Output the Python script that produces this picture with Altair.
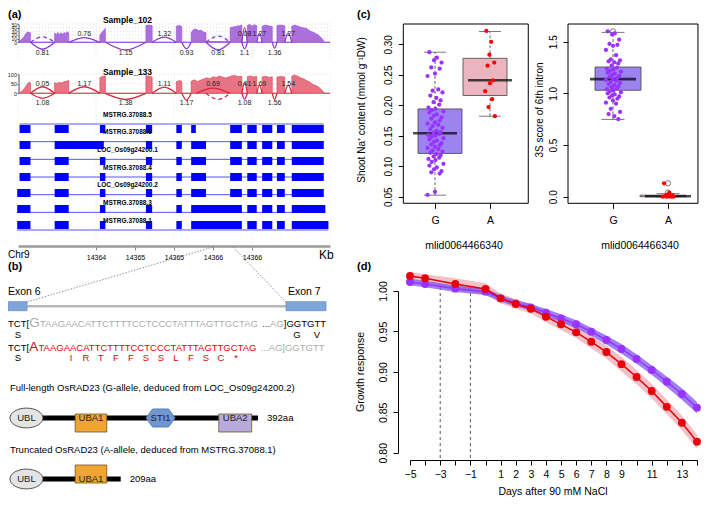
import altair as alt
import pandas as pd

# ======================= DATA =======================
# ---- (a) sashimi coverage: (position kb, read depth)
COV_102 = [
    (14363.00, 0), (14363.02, 0), (14363.02, 4), (14363.05, 9), (14363.08, 16), (14363.10, 24), (14363.12, 28), (14363.14, 27), (14363.16, 26), (14363.16, 0),
    (14363.47, 0), (14363.47, 26), (14363.49, 20), (14363.51, 27), (14363.53, 22), (14363.55, 26), (14363.57, 21), (14363.59, 27), (14363.61, 24), (14363.63, 29), (14363.65, 26), (14363.65, 0),
    (14364.05, 0), (14364.05, 20), (14364.08, 28), (14364.10, 33), (14364.12, 38), (14364.12, 0),
    (14364.64, 0), (14364.64, 46), (14364.68, 47), (14364.72, 45), (14364.72, 0),
    (14365.03, 0), (14365.03, 44), (14365.07, 46), (14365.10, 43), (14365.10, 0),
    (14365.22, 0), (14365.22, 27), (14365.25, 35), (14365.28, 36), (14365.31, 32), (14365.35, 33), (14365.38, 28), (14365.41, 26), (14365.41, 2), (14365.72, 2),
    (14365.72, 40), (14365.76, 42), (14365.80, 44), (14365.84, 45), (14365.87, 47), (14365.87, 0),
    (14365.94, 0), (14365.94, 46), (14365.97, 49), (14366.00, 44), (14366.03, 48), (14366.06, 45), (14366.06, 0),
    (14366.13, 0), (14366.13, 44), (14366.17, 47), (14366.21, 45), (14366.26, 43), (14366.26, 0),
    (14366.32, 0), (14366.32, 46), (14366.37, 47), (14366.42, 45), (14366.42, 0),
    (14366.51, 0), (14366.51, 44), (14366.55, 47), (14366.60, 43), (14366.65, 40), (14366.70, 38), (14366.75, 30), (14366.80, 26), (14366.85, 20), (14366.90, 10), (14366.92, 4), (14366.92, 0), (14367.00, 0),
]
COV_133 = [
    (14363.00, 0), (14363.02, 0), (14363.02, 2), (14363.06, 14), (14363.09, 30), (14363.12, 48), (14363.14, 57), (14363.16, 55), (14363.16, 0),
    (14363.47, 0), (14363.47, 55), (14363.50, 51), (14363.53, 57), (14363.56, 53), (14363.59, 60), (14363.62, 62), (14363.65, 68), (14363.65, 0),
    (14364.05, 0), (14364.05, 82), (14364.09, 88), (14364.12, 90), (14364.12, 0),
    (14364.64, 0), (14364.64, 92), (14364.68, 88), (14364.72, 84), (14364.72, 0),
    (14365.03, 0), (14365.03, 60), (14365.07, 66), (14365.10, 62), (14365.10, 0),
    (14365.22, 0), (14365.22, 62), (14365.26, 70), (14365.30, 61), (14365.34, 67), (14365.38, 74), (14365.42, 80), (14365.46, 76), (14365.50, 86), (14365.54, 82), (14365.58, 90), (14365.62, 85), (14365.66, 79), (14365.70, 84), (14365.74, 90), (14365.78, 92), (14365.82, 86), (14365.87, 88), (14365.87, 0),
    (14365.94, 0), (14365.94, 86), (14365.98, 90), (14366.02, 84), (14366.06, 88), (14366.06, 0),
    (14366.13, 0), (14366.13, 85), (14366.18, 88), (14366.22, 82), (14366.26, 86), (14366.26, 0),
    (14366.32, 0), (14366.32, 84), (14366.37, 87), (14366.42, 85), (14366.42, 0),
    (14366.51, 0), (14366.51, 88), (14366.54, 95), (14366.58, 90), (14366.62, 80), (14366.66, 76), (14366.70, 66), (14366.74, 58), (14366.78, 46), (14366.82, 40), (14366.86, 30), (14366.90, 15), (14366.92, 5), (14366.92, 0), (14367.00, 0),
]
# ---- (a) junctions: (start kb, end kb, arc apex depth (negative = below), label, dashed)
JUNC_102 = [
    (14363.16, 14363.47, 15, "", True),
    (14363.16, 14363.47, -19, "0.81", False),
    (14363.65, 14364.05, 13, "0.76", False),
    (14364.12, 14364.64, -21, "1.15", False),
    (14364.72, 14365.03, 14, "1.32", False),
    (14365.10, 14365.22, -18, "0.93", False),
    (14365.41, 14365.72, 17, "", True),
    (14365.41, 14365.72, -21, "0.81", False),
    (14365.87, 14365.94, 40, "0.08", False),
    (14365.87, 14365.94, -18, "1.1", False),
    (14366.06, 14366.13, 26, "1.27", False),
    (14366.26, 14366.32, -16, "1.36", False),
    (14366.42, 14366.51, 26, "1.27", False),
]
JUNC_133 = [
    (14363.16, 14363.47, 34, "0.05", False),
    (14363.16, 14363.47, -26, "1.08", False),
    (14363.65, 14364.05, 34, "1.17", False),
    (14364.12, 14364.64, -31, "1.38", False),
    (14364.72, 14365.03, 32, "1.11", False),
    (14365.10, 14365.22, -35, "1.17", False),
    (14365.28, 14365.72, 27, "0.69", False),
    (14365.41, 14365.72, -31, "", True),
    (14365.87, 14365.94, 58, "0.41", False),
    (14365.87, 14365.94, -31, "1.08", False),
    (14366.06, 14366.13, 42, "1.69", False),
    (14366.26, 14366.32, -31, "1.56", False),
    (14366.42, 14366.51, 42, "1.54", False),
]
DEPTH_TICKS_102 = [0, 10, 20, 30, 40, 50]
DEPTH_TICKS_133 = [0, 50, 100]
KB_TICKS = [14364, 14364.5, 14365, 14365.5, 14366]
KB_GRID = [14363, 14364, 14365, 14366, 14367]

TRANSCRIPTS = ["MSTRG.37088.5", "MSTRG.37088.6", "LOC_Os09g24200.1", "MSTRG.37088.4",
               "LOC_Os09g24200.2", "MSTRG.37088.3", "MSTRG.37088.1"]
E1, E1b = (14363.02, 14363.16), (14362.99, 14363.16)
E2, E3, E4, E5 = (14363.47, 14363.65), (14364.05, 14364.12), (14364.64, 14364.72), (14365.03, 14365.10)
E6s, E6l = (14365.22, 14365.28), (14365.22, 14365.41)
E7, E8, E9, E10, E11 = (14365.72, 14365.87), (14365.94, 14366.06), (14366.13, 14366.26), (14366.32, 14366.42), (14366.51, 14366.92)
EXONS = [
    [E1, E2, E3, E4, E5, E6s, E7, E8, E9, E10, E11],
    [E1, (14363.47, 14364.10), E4, E5, E6l, E7, E8, E9, E10, E11],
    [E1, E2, E3, E4, E5, E6l, E7, E8, E9, E10, E11],
    [E1, E2, E3, E4, E5, E6l, E7, E8, E9, E10, E11],
    [E1b, E2, E3, E4, E5, E6l, E7, E8, E9, E10, E11],
    [E1b, E2, E3, E4, E5, (14365.22, 14365.87), E8, E9, E10, (14366.51, 14366.94)],
    [E1b, E2, E3, E4, E5, (14365.22, 14365.87), E8, E9, E10, (14366.51, 14366.98)],
]

# ---- (b)
INTRON_DIAGRAM = [("exon", 0, 19), ("intron", 19, 278), ("exon", 278, 318)]
AA_TRUNC = ["I", "R", "T", "F", "F", "S", "S", "L", "F", "S", "C", "*"]
PROT_TITLES = ["Full-length OsRAD23 (G-allele, deduced from LOC_Os09g24200.2)",
               "Truncated OsRAD23 (A-allele, deduced from MSTRG.37088.1)"]
PROT_LEN_LABEL = ["392aa", "209aa"]
PROT_END = [392, 175]
DOM_NAME = ["UBA1", "UBA2", "UBA1"]
DOM_ROW = [0, 0, 1]
DOM_START = [103, 330, 103]
DOM_END = [153, 382, 153]
UBL_CENTER = 26
STI1_CENTER = 238

# ---- (c)
NA_G = [0.287, 0.278, 0.274, 0.270, 0.262, 0.260, 0.252, 0.248, 0.226, 0.224, 0.221, 0.216, 0.212, 0.208,
        0.205, 0.201, 0.196, 0.194, 0.192, 0.190, 0.188, 0.185, 0.183, 0.180, 0.178, 0.175, 0.172, 0.170,
        0.168, 0.166, 0.163, 0.161, 0.158, 0.156, 0.155, 0.153, 0.151, 0.150, 0.148, 0.146, 0.144, 0.142,
        0.140, 0.138, 0.136, 0.134, 0.132, 0.130, 0.128, 0.126, 0.124, 0.122, 0.120, 0.118, 0.116, 0.114,
        0.112, 0.110, 0.107, 0.104, 0.101, 0.098, 0.095, 0.092, 0.090, 0.088, 0.058, 0.053]
NA_A = [0.322, 0.304, 0.283, 0.270, 0.265, 0.241, 0.236, 0.223, 0.210, 0.197, 0.182]
S3_G = [1.60, 1.58, 1.57, 1.52, 1.48, 1.47, 1.46, 1.42, 1.37, 1.33, 1.32, 1.31, 1.30, 1.29, 1.27, 1.25,
        1.24, 1.23, 1.22, 1.21, 1.20, 1.19, 1.18, 1.17, 1.16, 1.15, 1.14, 1.13, 1.12, 1.11, 1.10, 1.09,
        1.08, 1.07, 1.06, 1.05, 1.04, 1.03, 1.02, 1.01, 1.00, 0.99, 0.98, 0.97, 0.96, 0.95, 0.93, 0.91,
        0.90, 0.85, 0.82, 0.80, 0.78, 0.75]
S3_A = [0.13, 0.04, 0.02, 0.012, 0.008, 0.005, 0.003, 0.0, 0.0, 0.0, 0.0]
# box stats: (lower whisker, q1, median, q3, upper whisker)
NA_BOX = {"G": (0.0525, 0.121, 0.154, 0.194, 0.287), "A": (0.182, 0.216, 0.241, 0.277, 0.321)}
S3_BOX = {"G": (0.748, 1.03, 1.138, 1.255, 1.59), "A": (0.0, 0.0, 0.004, 0.015, 0.03)}
S3_OUTLIERS = {"G": [1.60], "A": [0.13, 0.04]}
JITTER = [-0.6, 0.2, -0.1, 0.7, -0.4, 0.5, 0.0, -0.8, 0.35, -0.25, 0.8, -0.5, 0.15, 0.6, -0.15, 0.45, -0.7, 0.05, -0.35, 0.9]

# ---- (d)
DAYS = [-5, -4, -2, 0, 1, 2, 3, 4, 5, 6, 7, 8, 9, 10, 11, 12, 13, 14]
GROW_G = [1.0111, 1.0087, 1.0029, 0.9992, 0.9909, 0.9847, 0.9798, 0.9732, 0.9662, 0.9588, 0.9497, 0.9394,
          0.9283, 0.9159, 0.9023, 0.8878, 0.8726, 0.8557]
GROW_G_SE = [0.004, 0.004, 0.004, 0.004, 0.004, 0.004, 0.004, 0.0045, 0.005, 0.005, 0.005, 0.0055,
             0.006, 0.006, 0.006, 0.0065, 0.007, 0.007]
GROW_A = [1.0186, 1.0157, 1.0087, 1.0025, 0.9909, 0.9839, 0.9781, 0.9682, 0.9588, 0.9489, 0.9373, 0.9245,
          0.9095, 0.8936, 0.8763, 0.8567, 0.8371, 0.8136]
GROW_A_SE = [0.005, 0.005, 0.007, 0.007, 0.006, 0.006, 0.006, 0.007, 0.007, 0.007, 0.008, 0.008,
             0.009, 0.009, 0.009, 0.009, 0.009, 0.009]
DAY_TICKS = list(range(-5, 15))
DAY_LABELS = [-5, -3, -1, 1, 2, 3, 4, 5, 6, 7, 8, 9, 11, 13]
DASHED_DAYS = [-3, -1]

# ======================= LAYOUT HELPERS =======================
OFF = 8
W, H = 693, 491
FONT = "Liberation Sans"
PURPLE = "#9933ff"
RED = "#e8000b"


def S(dom, p0, p1):
    return alt.Scale(domain=list(dom), range=[p0 - OFF, p1 - OFF], nice=False, zero=False)


def T(s, x, y, size=10, color="black", weight="normal", align="left", baseline="middle", angle=0):
    return alt.Chart(pd.DataFrame({"t": [s]})).mark_text(
        fontSize=size, color=color, fontWeight=weight, align=align, baseline=baseline,
        angle=angle, font=FONT
    ).encode(x=alt.value(x - OFF), y=alt.value(y - OFF), text="t:N")


layers = []

# ======================= (a) =======================
KB = S([14363, 14367], 18, 330)


def sashimi(cov, junc, ticks, yscale, fill, line, base, grid_lo, grid_hi, lab_up, lab_dn, y_axis_x, tick_fs):
    out = []
    gh = pd.DataFrame({"v": ticks, "a": [14363] * len(ticks), "b": [14367] * len(ticks)})
    out.append(alt.Chart(gh).mark_rule(color="#d8d8d8", strokeDash=[1, 2], strokeWidth=0.8).encode(
        x=alt.X("a:Q", scale=KB, axis=None), x2="b:Q", y=alt.Y("v:Q", scale=yscale, axis=None)))
    gv = pd.DataFrame({"k": KB_GRID, "lo": [grid_lo] * len(KB_GRID), "hi": [grid_hi] * len(KB_GRID)})
    out.append(alt.Chart(gv).mark_rule(color="#d8d8d8", strokeDash=[1, 2], strokeWidth=0.8).encode(
        x=alt.X("k:Q", scale=KB, axis=None), y=alt.Y("lo:Q", scale=yscale, axis=None), y2="hi:Q"))
    out.append(alt.Chart(pd.DataFrame({"a": [14363], "b": [14367], "v": [0]})).mark_rule(
        color=base, strokeWidth=1.2).encode(
        x=alt.X("a:Q", scale=KB, axis=None), x2="b:Q", y=alt.Y("v:Q", scale=yscale, axis=None)))
    cdf = pd.DataFrame({"kb": [c[0] for c in cov], "d": [c[1] for c in cov]})
    out.append(alt.Chart(cdf).mark_area(color=fill, opacity=0.9, stroke=line, strokeWidth=0.6).encode(
        x=alt.X("kb:Q", scale=KB, axis=None),
        y=alt.Y("d:Q", scale=yscale, stack=None, axis=alt.Axis(
            orient="left", offset=-(y_axis_x - OFF), values=ticks, labelFontSize=tick_fs, tickSize=1.5,
            labelPadding=0.5, labelOverlap=False, labelFlush=False, grid=False, title=None,
            domainColor="#444", tickColor="#444", labelColor="#222", labelFont=FONT))))
    rows = []
    for j, (s, e, h, lab, dashed) in enumerate(junc):
        m = (s + e) / 2
        for k, (xx, yy) in enumerate([(s, 0), (m, h), (e, 0)]):
            rows.append({"id": j, "kb": xx, "d": yy, "dashed": dashed, "i": k})
    adf = pd.DataFrame(rows)
    for dashed in (False, True):
        sub = adf[adf["dashed"] == dashed]
        mk = dict(interpolate="monotone", color=line, strokeWidth=1.3)
        if dashed:
            mk["strokeDash"] = [4, 3]
        out.append(alt.Chart(sub).mark_line(**mk).encode(
            x=alt.X("kb:Q", scale=KB, axis=None), y=alt.Y("d:Q", scale=yscale, axis=None),
            detail="id:N", order="i:Q"))
    ldf = pd.DataFrame([{"kb": (s + e) / 2, "y": (lab_up if h > 0 else lab_dn), "t": lab}
                        for (s, e, h, lab, dashed) in junc if lab])
    out.append(alt.Chart(ldf).mark_text(fontSize=7, color="#222", font=FONT).encode(
        x=alt.X("kb:Q", scale=KB, axis=None), y=alt.Y("y:Q", scale=yscale, axis=None), text="t:N"))
    return out


Y102 = S([0, 50], 42.3, 24)
Y133 = S([0, 100], 93.3, 74)
layers += sashimi(COV_102, JUNC_102, DEPTH_TICKS_102, Y102, "#a461da", "#8a3bcf", "#c9a2ee",
                  -40, 55, 24, -30.5, 18.5, 5)
layers += sashimi(COV_133, JUNC_133, DEPTH_TICKS_133, Y133, "#e56676", "#d8263d", "#f0a8b0",
                  -78, 100, 46.5, -49, 18.5, 5.5)
layers.append(T("Sample_102", 127.5, 19.5, 8.5, weight="bold", align="center"))
layers.append(T("Sample_133", 127.5, 71.5, 8.5, weight="bold", align="center"))
layers.append(T("(a)", 8, 15, 11, weight="bold"))

# gene models
YG = S([0, 6], 124, 230)
gv = pd.DataFrame({"k": KB_GRID, "lo": [-0.8] * len(KB_GRID), "hi": [6.8] * len(KB_GRID)})
layers.append(alt.Chart(gv).mark_rule(color="#e4e4e4", strokeDash=[1, 2], strokeWidth=0.8).encode(
    x=alt.X("k:Q", scale=KB, axis=None), y=alt.Y("lo:Q", scale=YG, axis=None), y2="hi:Q"))
intr = pd.DataFrame({"row": list(range(len(TRANSCRIPTS))),
                     "s": [ex[0][0] for ex in EXONS], "e": [ex[-1][1] for ex in EXONS]})
layers.append(alt.Chart(intr).mark_rule(color="#5555ff", strokeWidth=1).encode(
    x=alt.X("s:Q", scale=KB, axis=None), x2="e:Q", y=alt.Y("row:Q", scale=YG, axis=None)))
exdf = pd.DataFrame([{"row": r, "s": s, "e": e} for r, ex in enumerate(EXONS) for (s, e) in ex])
layers.append(alt.Chart(exdf).mark_bar(orient="horizontal", size=8, color="#0000ff").encode(
    x=alt.X("s:Q", scale=KB, axis=alt.Axis(
        orient="bottom", offset=(246 - OFF) - H, values=KB_TICKS, format="~f", labelFontSize=7,
        tickSize=4, tickColor="#888", domainColor="#9a9a9a", domainWidth=2.5, labelPadding=3,
        grid=False, title=None, labelOverlap=False, labelFlush=False, labelFont=FONT)),
    x2="e:Q", y=alt.Y("row:Q", scale=YG, axis=None)))
ldf = pd.DataFrame({"row": list(range(len(TRANSCRIPTS))), "t": TRANSCRIPTS})
layers.append(alt.Chart(ldf).mark_text(fontSize=6.5, fontWeight="bold", font=FONT, dy=-9.5).encode(
    x=alt.value(127.5 - OFF), y=alt.Y("row:Q", scale=YG, axis=None), text="t:N"))
layers.append(T("Chr9", 8, 254.5, 10))
layers.append(T("Kb", 319, 254.5, 12))

# ======================= (b) =======================
layers.append(T("(b)", 8, 267, 11, weight="bold"))
for (x1, y1, x2, y2) in [(213, 247, 27, 302), (233, 247, 286, 302)]:
    layers.append(alt.Chart(pd.DataFrame({"a": [0]})).mark_rule(
        color="#777", strokeDash=[1.5, 1.5], strokeWidth=0.8).encode(
        x=alt.value(x1 - OFF), y=alt.value(y1 - OFF), x2=alt.value(x2 - OFF), y2=alt.value(y2 - OFF)))
XB = S([0, 318], 8, 326)
idf = pd.DataFrame([{"k": k, "s": s, "e": e} for (k, s, e) in INTRON_DIAGRAM])
layers.append(alt.Chart(idf[idf.k == "intron"]).mark_rule(color="#b8b8b8", strokeWidth=2.5).encode(
    x=alt.X("s:Q", scale=XB, axis=None), x2="e:Q", y=alt.value(306.2 - OFF)))
layers.append(alt.Chart(idf[idf.k == "exon"]).mark_bar(
    orient="horizontal", size=9, color="#7fa6da", stroke="#6a8fc6", strokeWidth=0.8).encode(
    x=alt.X("s:Q", scale=XB, axis=None), x2="e:Q", y=alt.value(306.2 - OFF)))
layers.append(T("Exon 6", 8, 295, 10.5, baseline="alphabetic"))
layers.append(T("Exon 7", 288, 295, 10.5, baseline="alphabetic"))

FS = 9.5
GRAY = "#adadad"
B1, A1, B2, A2 = 327.3, 337.5, 350.7, 361
layers += [
    T("TCT[", 8, B1, FS, baseline="alphabetic"),
    T("G", 29.3, B1, 13.5, GRAY, baseline="alphabetic"),
    T("TAAGAACATTCTTTTCCTCCCTATTTAGTTGCTAG", 40, B1, FS, GRAY, baseline="alphabetic"),
    T("...", 262.2, B1, FS, "#333", baseline="alphabetic"),
    T("AG", 270.1, B1, FS, GRAY, baseline="alphabetic"),
    T("]GGTGTT", 283.8, B1, FS, baseline="alphabetic"),
    T("S", 18, A1, FS, align="center", baseline="alphabetic"),
    T("G", 297, A1, FS, align="center", baseline="alphabetic"),
    T("V", 317, A1, FS, align="center", baseline="alphabetic"),
    T("TCT[", 8, B2, FS, baseline="alphabetic"),
    T("A", 29.3, B2, 13.5, RED, baseline="alphabetic"),
    T("TAAGAACATTCTTTTCCTCCCTATTTAGTTGCTAG", 38.5, B2, FS, RED, baseline="alphabetic"),
    T("...AG]GGTGTT", 260.7, B2, FS, GRAY, baseline="alphabetic"),
    T("S", 18, A2, FS, align="center", baseline="alphabetic"),
]
XCOD = S([0, len(AA_TRUNC) - 1], 71, 236)
aadf = pd.DataFrame({"k": list(range(len(AA_TRUNC))), "t": AA_TRUNC})
layers.append(alt.Chart(aadf).mark_text(fontSize=FS, color=RED, font=FONT, baseline="alphabetic").encode(
    x=alt.X("k:Q", scale=XCOD, axis=None), y=alt.value(A2 - OFF), text="t:N"))

# protein diagrams
XAA = S([0, 392], 10, 258)
YAA = S([0, 1], 418, 479)
layers.append(T(PROT_TITLES[0], 10, 388, 9.5))
layers.append(T(PROT_TITLES[1], 10, 450, 9.5))
pl = pd.DataFrame({"row": [0, 1], "s": [UBL_CENTER, UBL_CENTER], "e": PROT_END, "t": PROT_LEN_LABEL})
layers.append(alt.Chart(pl).mark_rule(color="black", strokeWidth=5).encode(
    x=alt.X("s:Q", scale=XAA, axis=None), x2="e:Q", y=alt.Y("row:Q", scale=YAA, axis=None)))
layers.append(alt.Chart(pl).mark_text(fontSize=9.5, align="left", dx=9, font=FONT).encode(
    x=alt.X("e:Q", scale=XAA, axis=None), y=alt.Y("row:Q", scale=YAA, axis=None), text="t:N"))
dd = pd.DataFrame({"n": DOM_NAME, "row": DOM_ROW, "s": DOM_START, "e": DOM_END})
dd["m"] = (dd.s + dd.e) / 2
layers.append(alt.Chart(dd).mark_bar(orient="horizontal", size=18, stroke="#6b5520", strokeWidth=0.8).encode(
    x=alt.X("s:Q", scale=XAA, axis=None), x2="e:Q", y=alt.Y("row:Q", scale=YAA, axis=None),
    color=alt.Color("n:N", scale=alt.Scale(domain=["UBA1", "UBA2"], range=["#f0a532", "#b9aadd"]), legend=None)))
ELLIPSE = "M -1 0 A 1 0.6 0 1 1 1 0 A 1 0.6 0 1 1 -1 0 Z"
HEXAGON = "M -1 0 L -0.55 -0.62 L 0.55 -0.62 L 1 0 L 0.55 0.62 L -0.55 0.62 Z"
ubl = pd.DataFrame({"row": [0, 1], "c": [UBL_CENTER, UBL_CENTER], "n": ["UBL", "UBL"]})
layers.append(alt.Chart(ubl).mark_point(shape=ELLIPSE, size=1089, filled=True, fill="#e4e4e4",
                                        stroke="#555", strokeWidth=1, opacity=1).encode(
    x=alt.X("c:Q", scale=XAA, axis=None), y=alt.Y("row:Q", scale=YAA, axis=None)))
sti = pd.DataFrame({"row": [0], "c": [STI1_CENTER], "n": ["STI1"]})
layers.append(alt.Chart(sti).mark_point(shape=HEXAGON, size=841, filled=True, fill="#7097d0",
                                        stroke="#5a7db3", strokeWidth=1, opacity=1).encode(
    x=alt.X("c:Q", scale=XAA, axis=None), y=alt.Y("row:Q", scale=YAA, axis=None)))
lab = pd.concat([ubl, sti, dd.rename(columns={"m": "c"})[["row", "c", "n"]]])
layers.append(alt.Chart(lab).mark_text(fontSize=9.5, font=FONT, color="#222").encode(
    x=alt.X("c:Q", scale=XAA, axis=None), y=alt.Y("row:Q", scale=YAA, axis=None), text="n:N"))

# ======================= (c) =======================
layers.append(T("(c)", 357, 15, 11, weight="bold"))


def box_panel(vals, box, outliers, xs, ys, frame_x, frame_y, yticks, yfmt, axis_x, widths, spreads, caps):
    out = []
    fr = pd.DataFrame({"x0": [frame_x[0]], "x1": [frame_x[1]], "y0": [frame_y[0]], "y1": [frame_y[1]]})
    for grp, pos in (("G", 1), ("A", 2)):
        lo, q1, med, q3, hi = box[grp]
        bw = widths[grp]
        bdf = pd.DataFrame({"x": [pos], "lo": [lo], "q1": [q1], "med": [med], "q3": [q3], "hi": [hi]})
        X = alt.X("x:Q", scale=xs, axis=None)
        out.append(alt.Chart(bdf).mark_rule(color="#555", strokeDash=[3, 2], strokeWidth=0.9).encode(
            x=X, y=alt.Y("q3:Q", scale=ys, axis=None), y2="hi:Q"))
        out.append(alt.Chart(bdf).mark_rule(color="#555", strokeDash=[3, 2], strokeWidth=0.9).encode(
            x=X, y=alt.Y("lo:Q", scale=ys, axis=None), y2="q1:Q"))
        for f in ("lo", "hi"):
            out.append(alt.Chart(bdf).mark_tick(orient="horizontal", size=caps, thickness=1, color="#444").encode(
                x=X, y=alt.Y(f + ":Q", scale=ys, axis=None)))
        out.append(alt.Chart(bdf).mark_bar(orient="vertical", size=bw, color=("#9c83ef" if grp == "G" else "#ebb5bf"),
                                           stroke="#444", strokeWidth=0.8).encode(
            x=X, y=alt.Y("q1:Q", scale=ys, axis=None), y2="q3:Q"))
        out.append(alt.Chart(bdf).mark_tick(orient="horizontal", size=bw, thickness=2.6, color="black").encode(
            x=X, y=alt.Y("med:Q", scale=ys, axis=None)))
        if outliers.get(grp):
            odf = pd.DataFrame({"x": [pos] * len(outliers[grp]), "v": outliers[grp]})
            out.append(alt.Chart(odf).mark_point(shape="circle", filled=False, size=28, color="#444",
                                                 strokeWidth=1).encode(
                x=alt.X("x:Q", scale=xs, axis=None), y=alt.Y("v:Q", scale=ys, axis=None)))
        v = vals[grp]
        pdf = pd.DataFrame({"x": [pos + JITTER[i % len(JITTER)] * spreads[grp] for i in range(len(v))], "v": v})
        out.append(alt.Chart(pdf).mark_circle(size=18, opacity=1, color=(PURPLE if grp == "G" else "#ff0000")).encode(
            x=alt.X("x:Q", scale=xs, axis=None), y=alt.Y("v:Q", scale=ys, axis=None)))
    out.append(alt.Chart(fr).mark_rect(fillOpacity=0, stroke="black", strokeWidth=1).encode(
        x=alt.X("x0:Q", scale=xs, axis=alt.Axis(
            orient="bottom", offset=(203.3 - OFF) - H, values=[1, 2],
            labelExpr="datum.value == 1 ? 'G' : 'A'", domain=False, tickSize=5, tickColor="black",
            labelFontSize=10.5, labelPadding=7, labelFont=FONT, grid=False, title=None,
            labelOverlap=False, labelFlush=False)),
        x2="x1:Q",
        y=alt.Y("y0:Q", scale=ys, axis=alt.Axis(
            orient="left", offset=-(axis_x - OFF), values=yticks, format=yfmt, labelAngle=270,
            labelAlign="center", labelBaseline="bottom", domain=False, tickSize=5, tickColor="black",
            labelFontSize=10, labelPadding=5, labelFont=FONT, grid=False, title=None,
            labelOverlap=False, labelFlush=False)),
        y2="y1:Q"))
    return out


XCL = S([1, 2], 435, 490)
YCL = S([0.05, 0.30], 196.7, 44.3)
layers += box_panel({"G": NA_G, "A": NA_A}, NA_BOX, {}, XCL, YCL, (0.424, 2.696), (0.0392, 0.3333),
                    [0.05, 0.10, 0.15, 0.20, 0.25, 0.30], ".2f", 403.3,
                    {"G": 44, "A": 44}, {"G": 0.17, "A": 0.11}, 22)
XCR = S([1, 2], 613, 668)
YCR = S([0, 1.5], 196.7, 41.7)
layers += box_panel({"G": S3_G, "A": S3_A}, S3_BOX, S3_OUTLIERS, XCR, YCR, (0.182, 2.545), (-0.064, 1.671),
                    [0.0, 0.5, 1.0, 1.5], ".1f", 568,
                    {"G": 46, "A": 46}, {"G": 0.16, "A": 0.12}, 23)
layers.append(T("Shoot Na\u207a content (mmol g\u207b\u00b9DW)", 362, 110, 10, align="center", angle=270))
layers.append(T("3S score of 6th intron", 540, 110, 10, align="center", angle=270))
layers.append(T("mlid0064466340", 464, 246, 10.5, align="center"))
layers.append(T("mlid0064466340", 640, 246, 10.5, align="center"))

# ======================= (d) =======================
layers.append(T("(d)", 357, 267, 11, weight="bold"))
XD = S([-5, 14], 410, 697)
YD = S([0.8, 1.0], 452.7, 291)
gdf = pd.DataFrame({"day": DAYS, "g": GROW_G, "glo": [a - b for a, b in zip(GROW_G, GROW_G_SE)],
                    "ghi": [a + b for a, b in zip(GROW_G, GROW_G_SE)],
                    "a": GROW_A, "alo": [a - b for a, b in zip(GROW_A, GROW_A_SE)],
                    "ahi": [a + b for a, b in zip(GROW_A, GROW_A_SE)]})
vdf = pd.DataFrame({"day": DASHED_DAYS, "lo": [0.7934] * 2, "hi": [1.005] * 2})
layers.append(alt.Chart(vdf).mark_rule(color="#555", strokeDash=[3, 3], strokeWidth=1).encode(
    x=alt.X("day:Q", scale=XD, axis=None), y=alt.Y("lo:Q", scale=YD, axis=None), y2="hi:Q"))
layers.append(alt.Chart(gdf).mark_area(color="#e27382", opacity=0.45).encode(
    x=alt.X("day:Q", scale=XD, axis=None), y=alt.Y("alo:Q", scale=YD, axis=None), y2="ahi:Q"))
layers.append(alt.Chart(gdf).mark_area(color="#7a4df0", opacity=0.72).encode(
    x=alt.X("day:Q", scale=XD, axis=None), y=alt.Y("glo:Q", scale=YD, axis=None), y2="ghi:Q"))
layers.append(alt.Chart(gdf).mark_line(color=PURPLE, strokeWidth=1.5).encode(
    x=alt.X("day:Q", scale=XD, axis=None), y=alt.Y("g:Q", scale=YD, axis=None)))
layers.append(alt.Chart(gdf).mark_circle(color=PURPLE, size=62, opacity=1).encode(
    x=alt.X("day:Q", scale=XD, axis=None), y=alt.Y("g:Q", scale=YD, axis=None)))
layers.append(alt.Chart(gdf).mark_line(color=RED, strokeWidth=1.5).encode(
    x=alt.X("day:Q", scale=XD, axis=None), y=alt.Y("a:Q", scale=YD, axis=None)))
layers.append(alt.Chart(gdf).mark_circle(color=RED, size=62, opacity=1).encode(
    x=alt.X("day:Q", scale=XD, axis=alt.Axis(
        orient="bottom", offset=(460 - OFF) - H, values=DAY_TICKS,
        labelExpr="indexof(" + str(DAY_LABELS) + ", datum.value) >= 0 ? datum.label : ''",
        tickSize=5, tickColor="black", domainColor="black", labelFontSize=10.5, labelPadding=4,
        labelFont=FONT, grid=False, title=None, labelOverlap=False, labelFlush=False)),
    y=alt.Y("a:Q", scale=YD, axis=alt.Axis(
        orient="left", offset=-(398 - OFF), values=[0.80, 0.85, 0.90, 0.95, 1.00], format=".2f",
        labelAngle=270, labelAlign="center", labelBaseline="bottom", tickSize=5, tickColor="black",
        domainColor="black", labelFontSize=10.5, labelPadding=5, labelFont=FONT, grid=False,
        title=None, labelOverlap=False, labelFlush=False))))
layers.append(T("Growth response", 361, 372, 10.5, align="center", angle=270))
layers.append(T("Days after 90 mM NaCl", 553, 492, 10.5, align="center"))

chart = alt.layer(*layers).resolve_scale(x="independent", y="independent", color="independent").properties(
    width=W, height=H, padding=0, autosize=alt.AutoSizeParams(type="none")
).configure_view(stroke=None).configure_text(font=FONT)

chart.save("out.html", embed_options={"renderer": "svg", "actions": False})
